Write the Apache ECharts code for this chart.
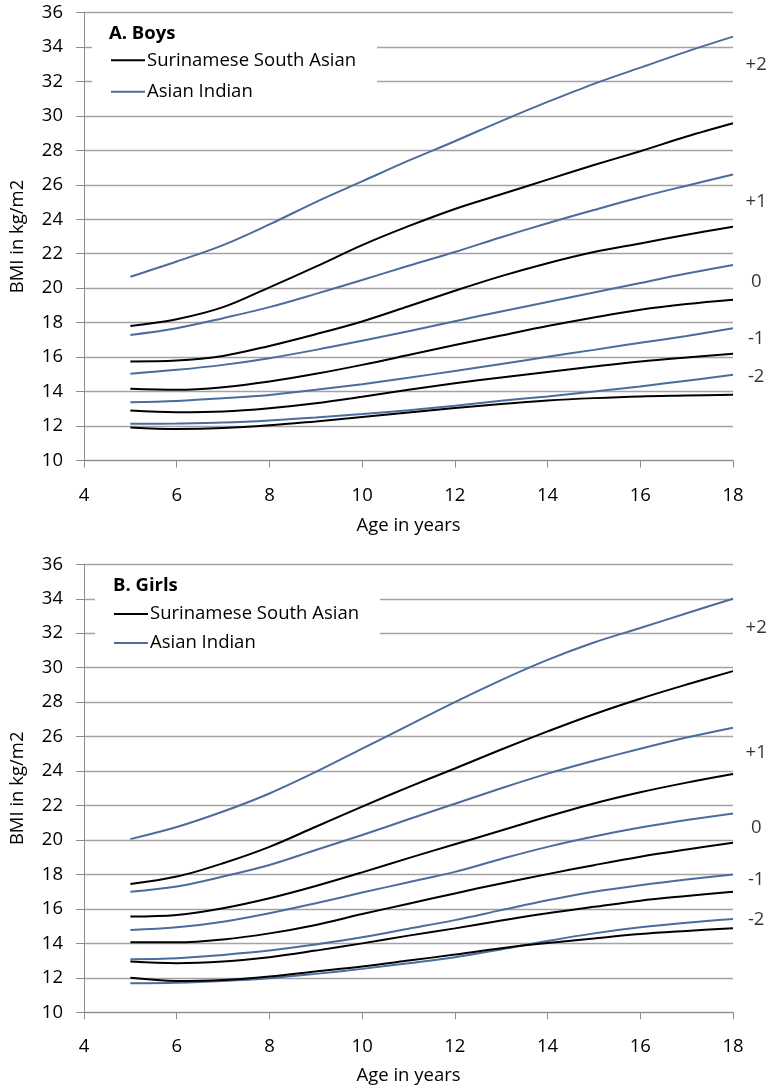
<!DOCTYPE html>
<html>
<head>
<meta charset="utf-8">
<script src="https://cdn.jsdelivr.net/npm/echarts@6/dist/echarts.min.js"></script>
<style>
html,body{margin:0;padding:0;background:#fff;}
#chart{width:772px;height:1091px;}
</style>
</head>
<body>
<div id="chart"></div>
<script>
// ---- data ----
var ages = [5, 6, 7, 8, 9, 10, 11, 12, 13, 14, 15, 16, 17, 18];
var xTicks = [4, 6, 8, 10, 12, 14, 16, 18];
var yTicks = [10, 12, 14, 16, 18, 20, 22, 24, 26, 28, 30, 32, 34, 36];

// Boys - Surinamese South Asian (z = +2 .. -2)
var boysSSA2  = [17.8, 18.2, 18.9, 20.05, 21.25, 22.5, 23.6, 24.6, 25.45, 26.3, 27.15, 27.95, 28.8, 29.57];
var boysSSA1  = [15.75, 15.8, 16.07, 16.65, 17.33, 18.07, 18.95, 19.85, 20.7, 21.45, 22.1, 22.6, 23.1, 23.57];
var boysSSA0  = [14.16, 14.1, 14.25, 14.58, 15.03, 15.55, 16.12, 16.7, 17.25, 17.8, 18.3, 18.75, 19.08, 19.33];
var boysSSAm1 = [12.9, 12.8, 12.84, 13.03, 13.32, 13.7, 14.1, 14.48, 14.82, 15.14, 15.45, 15.74, 15.98, 16.2];
var boysSSAm2 = [11.92, 11.83, 11.88, 12.04, 12.27, 12.52, 12.78, 13.04, 13.28, 13.48, 13.62, 13.72, 13.77, 13.82];
// Boys - Asian Indian
var boysAI2   = [20.66, 21.55, 22.5, 23.7, 25.0, 26.2, 27.4, 28.53, 29.7, 30.81, 31.86, 32.8, 33.73, 34.6];
var boysAI1   = [17.29, 17.68, 18.26, 18.9, 19.67, 20.48, 21.3, 22.1, 22.96, 23.77, 24.54, 25.28, 25.95, 26.6];
var boysAI0   = [15.03, 15.26, 15.55, 15.94, 16.42, 16.95, 17.5, 18.08, 18.65, 19.2, 19.75, 20.3, 20.85, 21.35];
var boysAIm1  = [13.38, 13.46, 13.61, 13.8, 14.1, 14.43, 14.8, 15.2, 15.6, 16.02, 16.42, 16.83, 17.23, 17.67];
var boysAIm2  = [12.13, 12.15, 12.2, 12.32, 12.5, 12.7, 12.92, 13.18, 13.47, 13.72, 14.0, 14.3, 14.63, 14.97];

// Girls - Surinamese South Asian
var girlsSSA2  = [17.45, 17.88, 18.65, 19.6, 20.77, 21.94, 23.07, 24.15, 25.25, 26.3, 27.3, 28.2, 29.02, 29.8];
var girlsSSA1  = [15.56, 15.65, 16.04, 16.62, 17.33, 18.12, 18.95, 19.75, 20.55, 21.36, 22.12, 22.77, 23.33, 23.83];
var girlsSSA0  = [14.06, 14.06, 14.23, 14.58, 15.07, 15.7, 16.3, 16.9, 17.48, 18.02, 18.54, 19.03, 19.45, 19.84];
var girlsSSAm1 = [12.95, 12.85, 12.95, 13.2, 13.58, 14.0, 14.45, 14.87, 15.33, 15.75, 16.12, 16.48, 16.75, 17.0];
var girlsSSAm2 = [12.0, 11.82, 11.88, 12.08, 12.37, 12.66, 13.0, 13.35, 13.72, 14.02, 14.29, 14.54, 14.72, 14.88];
// Girls - Asian Indian
var girlsAI2   = [20.05, 20.75, 21.65, 22.7, 23.95, 25.3, 26.65, 28.0, 29.28, 30.45, 31.46, 32.3, 33.16, 34.0];
var girlsAI1   = [17.0, 17.3, 17.88, 18.55, 19.42, 20.29, 21.2, 22.1, 23.0, 23.85, 24.6, 25.3, 25.95, 26.52];
var girlsAI0   = [14.77, 14.93, 15.26, 15.75, 16.33, 16.95, 17.55, 18.15, 18.9, 19.6, 20.2, 20.72, 21.16, 21.54];
var girlsAIm1  = [13.08, 13.14, 13.33, 13.58, 13.94, 14.35, 14.85, 15.35, 15.93, 16.5, 17.0, 17.38, 17.71, 18.0];
var girlsAIm2  = [11.69, 11.72, 11.82, 11.98, 12.23, 12.52, 12.85, 13.2, 13.65, 14.14, 14.58, 14.93, 15.2, 15.42];

// z-score annotations at right edge
var zText = ['+2', '+1', '0', '-1', '-2'];
var zLabelAge = 18.5;
var zLabelBoys = [32.95, 25.02, 20.38, 17.09, 14.86];
var zLabelGirls = [32.29, 25.07, 20.71, 17.68, 15.4];

var groupNames = ['Surinamese South Asian', 'Asian Indian'];
var panelTitles = ['A. Boys', 'B. Girls'];
var axisTitleX = 'Age in years';
var axisTitleY = 'BMI in kg/m2';

// ---- build ----
var FONT = 'Open Sans';
var FS = 18.5;
var BLACK = '#000000';
var BLUE = '#4a6d9c';

function pairs(vals) {
  return ages.map(function (a, i) { return [a, vals[i]]; });
}

var panels = [
  {ssa: [boysSSA2, boysSSA1, boysSSA0, boysSSAm1, boysSSAm2],
   ai: [boysAI2, boysAI1, boysAI0, boysAIm1, boysAIm2], z: zLabelBoys},
  {ssa: [girlsSSA2, girlsSSA1, girlsSSA0, girlsSSAm1, girlsSSAm2],
   ai: [girlsAI2, girlsAI1, girlsAI0, girlsAIm1, girlsAIm2], z: zLabelGirls}
];

var gridTops = [12.5, 564.3];
var gridH = 448;
var grids = [], xAxes = [], yAxes = [], series = [], legends = [], titles = [];
var xLabelMargins = [26, 25];
var xNameGaps = [56, 53.5];

panels.forEach(function (p, k) {
  grids.push({left: 81, top: gridTops[k], width: 652, height: gridH, containLabel: false});
  xAxes.push({
    type: 'value', gridIndex: k, min: 4, max: 18, interval: 2,
    name: axisTitleX, nameLocation: 'middle', nameGap: xNameGaps[k],
    nameTextStyle: {fontFamily: FONT, fontSize: FS, color: '#000'},
    axisLine: {show: true, lineStyle: {color: '#8c8c8c', width: 1}},
    axisTick: {show: true, length: 7, lineStyle: {color: '#8c8c8c'}},
    axisLabel: {margin: xLabelMargins[k], fontFamily: FONT, fontSize: FS, color: '#000',
      formatter: function (v) { return xTicks.indexOf(v) >= 0 ? String(v) : ''; }},
    splitLine: {show: false}
  });
  yAxes.push({
    type: 'value', gridIndex: k, min: 10, max: 36, interval: 2,
    name: axisTitleY, nameLocation: 'middle', nameGap: 57, nameRotate: 90,
    nameTextStyle: {fontFamily: FONT, fontSize: FS, color: '#000'},
    axisLine: {show: true, lineStyle: {color: '#8c8c8c', width: 1}},
    axisTick: {show: true, length: 8, lineStyle: {color: '#8c8c8c'}},
    axisLabel: {margin: 21, fontFamily: FONT, fontSize: FS, color: '#000',
      formatter: function (v) { return yTicks.indexOf(v) >= 0 ? String(v) : ''; }},
    splitLine: {show: true, lineStyle: {color: '#a3a3a3', width: 1.3}}
  });
  for (var i = 0; i < 5; i++) {
    series.push({
      type: 'line', name: groupNames[0], xAxisIndex: k, yAxisIndex: k,
      data: pairs(p.ssa[i]), smooth: 0.35, symbol: 'none',
      lineStyle: {color: BLACK, width: 2}, itemStyle: {color: BLACK}, z: 3
    });
    series.push({
      type: 'line', name: groupNames[1], xAxisIndex: k, yAxisIndex: k,
      data: pairs(p.ai[i]), smooth: 0.35, symbol: 'none',
      lineStyle: {color: BLUE, width: 2}, itemStyle: {color: BLUE}, z: 2
    });
  }
  series.push({
    type: 'scatter', xAxisIndex: k, yAxisIndex: k, clip: false,
    symbolSize: 0, silent: true,
    data: p.z.map(function (v, i) { return {value: [zLabelAge, v], label: {formatter: zText[i]}}; }),
    label: {show: true, position: 'inside', fontFamily: FONT, fontSize: FS, color: '#000'}
  });
  legends.push({
    orient: 'vertical', left: [92, 95][k], top: [20.75, 574.5][k],
    backgroundColor: '#ffffff',
    padding: [30, 21, 10, 19],
    itemGap: [12.5, 10][k],
    itemWidth: 34, itemHeight: 2, icon: 'rect',
    textStyle: {fontFamily: FONT, fontSize: FS, color: '#000', padding: [0, 0, 0, -3]},
    data: groupNames.slice()
  });
  titles.push({
    text: panelTitles[k], left: [109, 113][k], top: [24, 575.75][k], padding: 0,
    textStyle: {fontFamily: FONT, fontSize: FS, fontWeight: 'bold', color: '#000'}
  });
});

var chart = echarts.init(document.getElementById('chart'), null, {renderer: 'canvas'});
chart.setOption({
  animation: false,
  backgroundColor: '#ffffff',
  title: titles,
  legend: legends,
  grid: grids,
  xAxis: xAxes,
  yAxis: yAxes,
  series: series
});
</script>
</body>
</html>
